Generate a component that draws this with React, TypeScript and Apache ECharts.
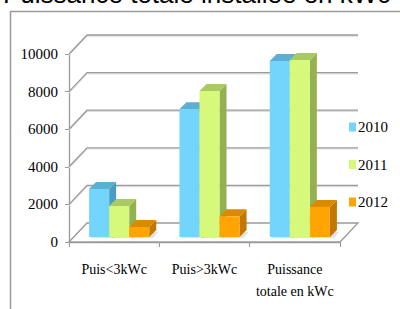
import React, { useEffect, useRef } from "react";
import * as echarts from "echarts";

const title = "Puissance totale installée en kWc";
const categories = ["Puis<3kWc", "Puis>3kWc", "Puissance\ntotale en kWc"];
const years = ["2010", "2011", "2012"];
const values2010 = [2550, 6800, 9360];
const values2011 = [1650, 7770, 9410];
const values2012 = [530, 1100, 1600];
const yTicks = [0, 2000, 4000, 6000, 8000, 10000];

const frontColors = ["#73d5fb", "#d7f97b", "#ffa400"];
const topColors = ["#5aafd2", "#a9c963", "#d98b00"];
const sideColors = ["#4b9cc2", "#93b150", "#c27800"];

const DX = 18;
const DY = 19;
const FX = 5;
const FY = 5;
const BD = 7;

export default function App() {
  const ref = useRef<HTMLDivElement>(null);
  useEffect(() => {
    if (!ref.current) return;
    const chart = echarts.init(ref.current, null, { renderer: "svg" });
    const series: any[] = [];

    series.push({
      type: "custom",
      name: "walls",
      silent: true,
      clip: false,
      z: 1,
      data: yTicks.map((v) => [0, v]),
      renderItem: (params: any, api: any) => {
        const v = api.value(1);
        const cs = params.coordSys;
        const y = api.coord([0, v])[1];
        const x0 = cs.x;
        const x1 = cs.x + cs.width;
        if (v === 0) {
          return {
            type: "group",
            children: [
              {
                type: "polygon",
                shape: { points: [[x0, y], [x0 + DX, y - DY], [x1 + DX, y - DY], [x1, y]] },
                style: { fill: "#ffffff", stroke: "#9a9a9a", lineWidth: 1.3 },
              },
            ],
          };
        }
        return {
          type: "group",
          children: [
            {
              type: "polyline",
              shape: { points: [[x0, y + 1.2], [x0 + DX, y - DY + 1.2], [x1 + DX, y - DY + 1.2]] },
              style: { fill: "none", stroke: "#dddddd", lineWidth: 1.2 },
            },
            {
              type: "polyline",
              shape: { points: [[x0, y], [x0 + DX, y - DY], [x1 + DX, y - DY]] },
              style: { fill: "none", stroke: "#9a9a9a", lineWidth: 1.3 },
            },
          ],
        };
      },
    });

    const allValues = [values2010, values2011, values2012];
    allValues.forEach((vals, k) => {
      series.push({
        type: "custom",
        name: years[k],
        clip: false,
        z: 2 + k,
        itemStyle: { color: frontColors[k] },
        data: vals.map((v, i) => [i, v]),
        renderItem: (params: any, api: any) => {
          const ci = api.value(0);
          const v = api.value(1);
          const band = api.size([1, 0])[0];
          const bw = band * 0.222;
          const base = api.coord([ci, 0]);
          const top = api.coord([ci, v]);
          const left = base[0] + FX - 1.5 * bw + k * bw;
          const yb = base[1] - FY;
          const yt = top[1] - FY;
          return {
            type: "group",
            children: [
              {
                type: "polygon",
                shape: {
                  points: [
                    [left + 2, yb + 1],
                    [left + bw + 4, yb + 1],
                    [left + bw + BD + 2, yb - BD + 2],
                    [left + BD, yb - BD + 2],
                  ],
                },
                style: { fill: "rgba(0,0,0,0.10)", shadowBlur: 5, shadowColor: "rgba(0,0,0,0.25)" },
              },
              {
                type: "polygon",
                shape: { points: [[left + bw, yt], [left + bw + BD, yt - BD], [left + bw + BD, yb - BD], [left + bw, yb]] },
                style: { fill: sideColors[k] },
              },
              {
                type: "polygon",
                shape: { points: [[left, yt], [left + BD, yt - BD], [left + bw + BD, yt - BD], [left + bw, yt]] },
                style: { fill: topColors[k] },
              },
              {
                type: "rect",
                shape: { x: left, y: yt, width: bw, height: yb - yt },
                style: { fill: frontColors[k] },
              },
            ],
          };
        },
      });
    });

    chart.setOption({
      animation: false,
      backgroundColor: "#ffffff",
      grid: { left: 69, right: 60, top: 54, bottom: 67 },
      legend: {
        data: years,
        orient: "vertical",
        left: 349,
        top: 119,
        icon: "rect",
        itemWidth: 7,
        itemHeight: 9,
        itemGap: 21.5,
        padding: 0,
        selectedMode: false,
        textStyle: { fontFamily: "Liberation Serif", fontSize: 15, color: "#000", lineHeight: 16, padding: [0, 0, 0, -3] },
      },
      xAxis: {
        type: "category",
        data: categories,
        boundaryGap: true,
        axisLine: { show: true, lineStyle: { color: "#9a9a9a", width: 1.3 } },
        axisTick: { show: true, length: 5, lineStyle: { color: "#9a9a9a" } },
        axisLabel: { fontFamily: "Liberation Serif", fontSize: 14, color: "#000", lineHeight: 22, margin: 16, interval: 0 },
      },
      yAxis: {
        type: "value",
        min: 0,
        max: 10000,
        interval: 2000,
        axisLine: { show: true, lineStyle: { color: "#9a9a9a", width: 1.3 } },
        axisTick: { show: true, length: 4, lineStyle: { color: "#9a9a9a" } },
        splitLine: { show: false },
        axisLabel: {
          fontFamily: "Liberation Serif",
          fontSize: 15,
          color: "#000",
          margin: 11,
          formatter: (v: number) => String(v),
        },
      },
      graphic: [
        {
          type: "rect",
          shape: { x: 10.5, y: 11.5, width: 420, height: 320 },
          style: { fill: "none", stroke: "#9a9a9a", lineWidth: 1.5 },
          z: 0,
        },
        {
          type: "text",
          x: 3,
          y: -6,
          style: {
            text: title,
            fontFamily: "Liberation Sans",
            fontSize: 26,
            fill: "#000",
            verticalAlign: "middle",
            align: "left",
          },
        },
      ],
      series,
    });
    return () => chart.dispose();
  }, []);
  return <div ref={ref} style={{ width: 400, height: 309, position: "absolute", left: 0, top: 0 }} />;
}
